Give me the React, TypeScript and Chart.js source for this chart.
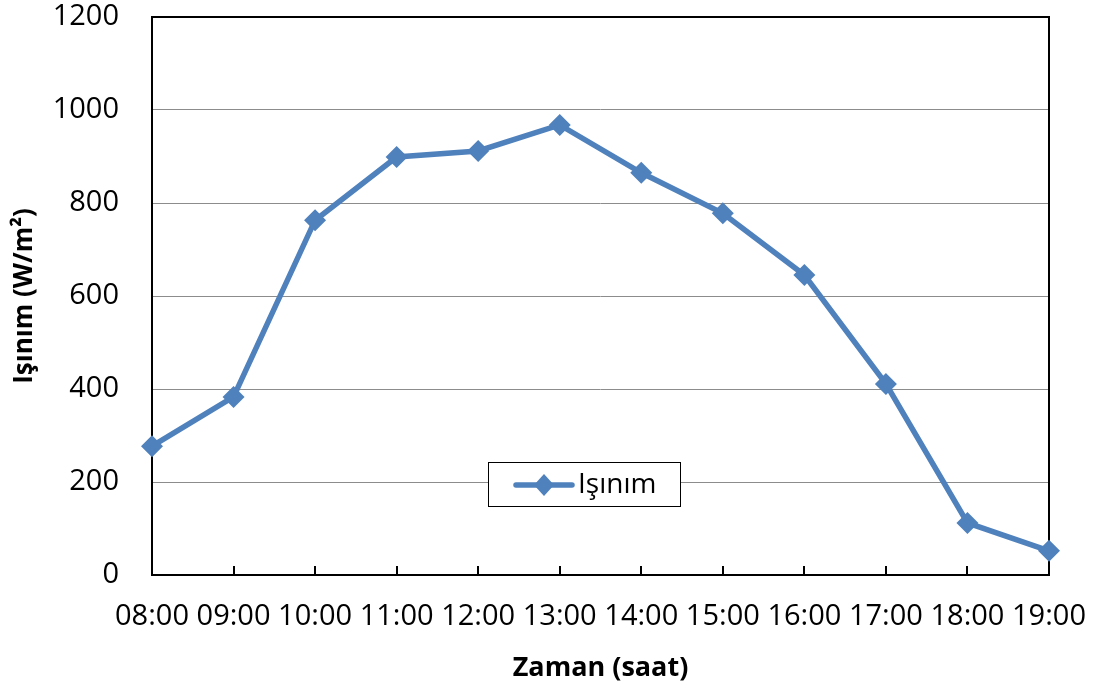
import React, { useEffect, useRef } from "react";
import { Chart, registerables } from "chart.js";

Chart.register(...registerables);

const categories = ["08:00", "09:00", "10:00", "11:00", "12:00", "13:00", "14:00", "15:00", "16:00", "17:00", "18:00", "19:00"];
const isinim = [277, 383, 763, 899, 912, 968, 865, 778, 645, 411, 112, 52];
const seriesLabel = "Işınım";
const xTitle = "Zaman (saat)";
const yTitle = "Işınım (W/m²)";
const yMin = 0;
const yMax = 1200;
const yStep = 200;

const FONT = "'Open Sans', 'Noto Sans', sans-serif";
const BLUE = "#4F81BD";

const frame = {
  id: "frame",
  beforeDatasetsDraw(chart: any) {
    const { ctx, chartArea: a, scales } = chart;
    ctx.save();
    ctx.strokeStyle = "#000";
    ctx.lineWidth = 2;
    ctx.strokeRect(a.left, a.top, a.right - a.left, a.bottom - a.top);
    const xs = scales.x;
    ctx.beginPath();
    for (let i = 1; i < categories.length - 1; i++) {
      const px = Math.round(xs.getPixelForValue(i));
      ctx.moveTo(px, a.bottom);
      ctx.lineTo(px, a.bottom - 9);
    }
    ctx.stroke();
    ctx.restore();
  },
  afterDatasetsDraw(chart: any) {
    const { ctx } = chart;
    const bx = 488, by = 462, bw = 192, bh = 44;
    ctx.save();
    ctx.fillStyle = "#fff";
    ctx.fillRect(bx, by, bw, bh);
    ctx.strokeStyle = "#000";
    ctx.lineWidth = 1;
    ctx.strokeRect(bx + 0.5, by + 0.5, bw, bh);
    const cy = by + bh / 2 + 1;
    ctx.strokeStyle = BLUE;
    ctx.lineWidth = 5.5;
    ctx.lineCap = "round";
    ctx.beginPath();
    ctx.moveTo(516, cy);
    ctx.lineTo(572, cy);
    ctx.stroke();
    ctx.fillStyle = BLUE;
    ctx.beginPath();
    ctx.moveTo(544, cy - 11);
    ctx.lineTo(554, cy);
    ctx.lineTo(544, cy + 11);
    ctx.lineTo(534, cy);
    ctx.closePath();
    ctx.fill();
    ctx.fillStyle = "#000";
    ctx.font = `28px ${FONT}`;
    ctx.textBaseline = "middle";
    ctx.textAlign = "left";
    ctx.fillText(seriesLabel, 578, cy);
    ctx.restore();
  },
};

export default function App() {
  const ref = useRef<HTMLCanvasElement | null>(null);
  useEffect(() => {
    document.body.style.margin = "0";
    const chart = new Chart(ref.current as HTMLCanvasElement, {
      type: "line",
      data: {
        labels: categories,
        datasets: [
          {
            label: seriesLabel,
            data: isinim,
            borderColor: BLUE,
            backgroundColor: BLUE,
            borderWidth: 5.5,
            pointStyle: "rectRot",
            pointRadius: 11,
            pointBackgroundColor: BLUE,
            pointBorderColor: BLUE,
            pointBorderWidth: 0,
            tension: 0,
            clip: false as any,
          },
        ],
      },
      plugins: [frame],
      options: {
        animation: false,
        responsive: false,
        layout: { padding: { top: 17, right: 50, left: 0, bottom: 0 } },
        plugins: {
          legend: { display: false },
          tooltip: { enabled: false },
        },
        scales: {
          x: {
            offset: false,
            grid: { display: false, drawTicks: false },
            border: { display: false },
            ticks: {
              autoSkip: false,
              maxRotation: 0,
              minRotation: 0,
              padding: 24,
              color: "#000",
              font: { family: FONT, size: 29 },
            },
            title: {
              display: true,
              text: xTitle,
              color: "#000",
              font: { family: FONT, size: 27, weight: "bold" },
              padding: { top: 4, bottom: 6 },
            },
            afterFit(s: any) {
              s.height = 116;
              s.paddingLeft = 0;
              s.paddingRight = 0;
            },
          },
          y: {
            min: yMin,
            max: yMax,
            ticks: {
              stepSize: yStep,
              padding: 33,
              color: "#000",
              font: { family: FONT, size: 29 },
              callback: (v: any) => String(v),
            },
            grid: { color: "#8c8c8c", lineWidth: 1, drawTicks: false },
            border: { display: false },
            title: {
              display: true,
              text: yTitle,
              color: "#000",
              font: { family: FONT, size: 26, weight: "bold" },
              padding: { top: 9, bottom: 6 },
            },
            afterFit(s: any) {
              s.width = 152;
              s.paddingTop = 0;
              s.paddingBottom = 0;
            },
          },
        },
      },
    });
    return () => chart.destroy();
  }, []);
  return <canvas ref={ref} width={1099} height={691} style={{ display: "block" }} />;
}
